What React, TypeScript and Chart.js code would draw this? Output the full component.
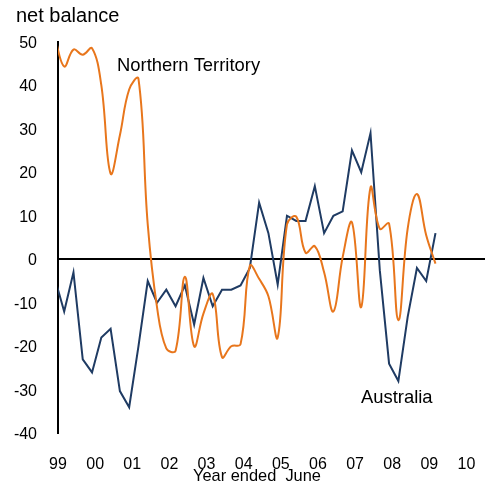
import React, { useEffect, useRef } from 'react';
import { Chart, registerables } from 'chart.js';

Chart.register(...registerables);

// Quarterly observations, Dec 1998 – Mar 2009
const quarters = [
  'Dec-1998', 'Mar-1999', 'Jun-1999', 'Sep-1999', 'Dec-1999',
  'Mar-2000', 'Jun-2000', 'Sep-2000', 'Dec-2000',
  'Mar-2001', 'Jun-2001', 'Sep-2001', 'Dec-2001',
  'Mar-2002', 'Jun-2002', 'Sep-2002', 'Dec-2002',
  'Mar-2003', 'Jun-2003', 'Sep-2003', 'Dec-2003',
  'Mar-2004', 'Jun-2004', 'Sep-2004', 'Dec-2004',
  'Mar-2005', 'Jun-2005', 'Sep-2005', 'Dec-2005',
  'Mar-2006', 'Jun-2006', 'Sep-2006', 'Dec-2006',
  'Mar-2007', 'Jun-2007', 'Sep-2007', 'Dec-2007',
  'Mar-2008', 'Jun-2008', 'Sep-2008', 'Dec-2008',
  'Mar-2009',
];

const australia = [
  -4.5, -12, -3, -23, -26,
  -18, -16, -30.3, -34,
  -20, -5, -10, -7,
  -10.8, -6, -15, -4.3,
  -10.8, -7, -7, -6,
  -2, 13, 6, -5.8,
  10, 8.8, 8.8, 16.8,
  6, 10, 11, 25,
  20, 29, -2.5, -24,
  -28, -13.3, -2, -5,
  6,
];

const northernTerritory = [
  51, 44.3, 48.2, 47, 48.5,
  40, 19.7, 28.5, 39,
  41.5, 8, -11, -20.5,
  -21, -4, -20, -12.5,
  -8, -22.5, -20, -19.5,
  -1.5, -4.5, -8.5, -18,
  8, 9.8, 1.5, 3,
  -3, -12, 0.5, 8.5,
  -11, 16.5, 7, 8.2,
  -14, 7, 15, 5.5,
  -1,
];

const yearTicks = [1999, 2000, 2001, 2002, 2003, 2004, 2005, 2006, 2007, 2008, 2009, 2010];
const yearTickLabels = ['99', '00', '01', '02', '03', '04', '05', '06', '07', '08', '09', '10'];

const monthNumber: Record<string, number> = { Mar: 3, Jun: 6, Sep: 9, Dec: 12 };
function quarterToX(q: string): number {
  const [m, y] = q.split('-');
  return Number(y) + (monthNumber[m] - 1) / 12;
}

const NAVY = '#1f3b63';
const ORANGE = '#e8761c';

const textPlugin = {
  id: 'annotText',
  afterDraw(chart: any) {
    const ctx = chart.ctx;
    ctx.save();
    ctx.fillStyle = '#000';
    ctx.textBaseline = 'alphabetic';
    ctx.textAlign = 'left';
    ctx.font = '20px "Liberation Sans", Arial, sans-serif';
    ctx.fillText('net balance', 16, 22);
    ctx.font = '18.4px "Liberation Sans", Arial, sans-serif';
    ctx.fillText('Northern Territory', 117, 71);
    ctx.fillText('Australia', 361, 403);
    ctx.textAlign = 'center';
    ctx.font = '16.4px "Liberation Sans", Arial, sans-serif';
    ctx.fillText('Year ended  June', 257, 481);
    ctx.restore();
  },
};

export default function App() {
  const ref = useRef<HTMLCanvasElement | null>(null);

  useEffect(() => {
    document.body.style.margin = '0';
    const canvas = ref.current;
    if (!canvas) return;
    const xs = quarters.map(quarterToX);
    const chart = new Chart(canvas, {
      type: 'line',
      data: {
        datasets: [
          {
            label: 'Northern Territory',
            data: xs.map((x, i) => ({ x, y: northernTerritory[i] })),
            borderColor: ORANGE,
            borderWidth: 2,
            pointRadius: 0,
            tension: 0.4,
            fill: false,
          },
          {
            label: 'Australia',
            data: xs.map((x, i) => ({ x, y: australia[i] })),
            borderColor: NAVY,
            borderWidth: 2,
            pointRadius: 0,
            tension: 0,
            fill: false,
          },
        ],
      },
      options: {
        responsive: false,
        animation: false,
        devicePixelRatio: 1,
        layout: { padding: { top: 41.7, right: 0, bottom: 0, left: 0 } },
        plugins: {
          legend: { display: false },
          tooltip: { enabled: false },
          title: { display: false },
        },
        scales: {
          x: {
            type: 'linear',
            min: 1999,
            max: 2010.5,
            afterBuildTicks: (scale: any) => {
              scale.ticks = yearTicks.map((v) => ({ value: v }));
            },
            afterFit: (scale: any) => {
              scale.height = 48.7;
              scale.paddingLeft = 0;
              scale.paddingRight = 0;
            },
            grid: { display: false, drawTicks: false },
            border: { display: false },
            ticks: {
              autoSkip: false,
              maxRotation: 0,
              padding: 22,
              color: '#000',
              font: { size: 16, family: '"Liberation Sans", Arial, sans-serif' },
              callback: (v: any) => {
                const i = yearTicks.indexOf(Number(v));
                return i >= 0 ? yearTickLabels[i] : '';
              },
            },
          },
          y: {
            type: 'linear',
            min: -40,
            max: 50,
            afterFit: (scale: any) => {
              scale.width = 58;
              scale.paddingTop = 0;
              scale.paddingBottom = 0;
            },
            grid: {
              drawTicks: false,
              color: (c: any) => (c.tick && c.tick.value === 0 ? '#000' : 'rgba(0,0,0,0)'),
              lineWidth: 2,
            },
            border: { display: true, color: '#000', width: 2 },
            ticks: {
              stepSize: 10,
              padding: 21,
              labelOffset: 1.5,
              color: '#000',
              font: { size: 16, family: '"Liberation Sans", Arial, sans-serif' },
            },
          },
        },
      },
      plugins: [textPlugin],
    });
    return () => chart.destroy();
  }, []);

  return (
    <div style={{ position: 'absolute', left: 0, top: 0, width: 485, height: 482 }}>
      <canvas ref={ref} width={485} height={482} />
    </div>
  );
}
